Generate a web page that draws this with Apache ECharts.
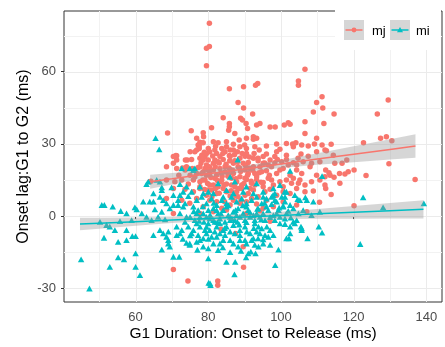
<!DOCTYPE html>
<html>
<head>
<meta charset="utf-8">
<script src="https://cdn.jsdelivr.net/npm/echarts@6/dist/echarts.min.js"></script>
<style>html,body{margin:0;padding:0;background:#fff}#c{width:445px;height:347px}</style>
</head>
<body>
<div id="c"></div>
<script>
// ---- data ----
const seriesNames = ['mj', 'mi'];
const xTicks = [60, 80, 100, 120, 140];
const yTicks = [-30, 0, 30, 60];
const xMinor = [50, 70, 90, 110, 130];
const yMinor = [-15, 15, 45, 75];
const xRange = [40.3, 144.3];
const yRange = [-35.7, 85.2];

const mjPoints = [
[80.3,80.1],[79.5,69.7],[80.3,70.4],[79.5,62.5],[106.6,61.0],[104.8,56.1],[104.8,54.4],[93.6,55.1],[93.0,54.4],[89.7,53.7],[85.8,52.9],[129.5,48.2],[111.3,49.6],[109.8,47.2],[88.2,47.2],[89.7,44.9],[111.5,44.9],[108.9,43.2],[114.6,42.4],[126.5,42.4],[92.2,42.4],[84.1,40.9],[88.9,40.6],[89.4,39.9],[90.4,38.5],[90.8,36.4],[93.3,37.8],[94.2,38.5],[97.0,37.0],[98.4,37.0],[100.9,37.8],[102.0,38.8],[102.5,38.2],[106.6,39.2],[111.8,38.5],[106.6,34.3],[80.9,36.7],[85.8,38.5],[85.8,37.1],[85.6,35.7],[75.3,35.5],[68.8,34.5],[78.7,33.0],[87.3,34.3],[92.4,33.0],[93.3,32.3],[109.8,32.3],[129.0,33.0],[127.4,32.3],[130.5,31.3],[122.7,30.5],[113.8,29.8],[129.7,21.7],[123.4,16.9],[120.1,19.1],[118.5,18.4],[136.9,15.2],[116.1,17.7],[117.6,17.5],[112.3,19.1],[113.2,18.0],[113.8,9.0],[112.3,11.5],[110.6,5.7],[108.9,10.4],[120.1,4.3],[107.1,1.8],[116.2,13.6],[114.6,16.1],[116.8,21.9],[118.1,23.3],
[70.4,-22.2],[74.4,-27.0],[82.6,-27.0],[82.6,-28.7],[89.7,-21.3],[89.6,-12.7],[87.5,-7.2],[83.5,-5.5],[97.0,-2.1],[63.9,14.3],[64.2,14.5],[71.3,25.1],[74.2,23.3],[72.9,20.0],[71.9,17.0],[77.2,29.5],[77.7,30.7],
[77.5,29.1],[78.0,30.5],[78.6,30.5],[81.4,30.9],[82.7,30.5],[85.0,30.9],[86.9,29.8],[88.5,31.6],[90.5,32.3],[92.4,31.9],[92.8,28.8],[96.0,29.1],[98.8,29.9],[101.5,30.2],[103.2,29.9],[104.1,30.5],[105.7,29.5],[107.5,29.1],[109.2,29.9],[111.3,29.5],[112.5,27.1],
[70.4,24.7],[71.1,25.2],[75.0,26.7],[76.8,27.4],[77.5,28.1],[80.0,28.1],[80.4,26.7],[82.3,26.0],[84.6,26.7],[85.8,25.2],[88.0,26.7],[90.1,24.9],[90.5,28.1],[92.6,26.0],[94.0,27.4],[95.1,24.7],[96.0,25.8],[98.8,26.7],[99.7,27.8],[101.5,25.3],[103.4,28.8],[105.5,25.8],[107.5,24.9],[109.8,26.7],[112.1,27.4],[114.4,25.3],
[70.4,21.9],[71.3,23.3],[73.7,23.3],[75.4,23.5],[77.7,24.0],[79.1,24.7],[80.0,23.3],[81.4,21.9],[82.7,22.6],[84.1,23.5],[86.0,24.7],[87.3,23.0],[88.7,24.0],[91.0,22.3],[92.4,24.0],[93.7,23.0],[95.1,21.9],[97.0,23.3],[98.3,22.2],[100.2,22.6],[101.5,23.5],[103.4,22.2],[104.7,24.0],[106.1,22.6],[108.4,21.9],[110.7,22.6],[114.8,21.9],
[68.5,20.5],[71.3,19.8],[73.6,19.1],[75.6,19.8],[77.2,20.2],[78.6,18.4],[80.3,20.5],[81.4,19.1],[83.2,19.8],[84.6,18.4],[86.0,19.4],[86.9,17.7],[88.2,20.5],[90.1,19.1],[91.5,19.8],[92.8,17.7],[94.2,20.5],[96.0,18.8],[97.4,20.5],[98.8,17.7],[100.6,19.8],[102.5,17.0],[104.3,19.1],[105.7,17.7],[108.0,20.5],[109.8,17.0],[112.1,16.3],[113.5,17.0],
[68.5,15.0],[70.8,14.3],[72.7,15.0],[74.5,13.3],[76.3,16.3],[77.7,14.3],[79.1,15.0],[80.4,12.9],[81.8,15.7],[83.2,14.3],[85.0,13.3],[86.4,15.7],[87.8,14.3],[89.2,12.9],[90.5,15.2],[91.9,13.6],[93.3,15.0],[95.1,13.9],[96.5,15.7],[97.9,12.9],[99.7,14.3],[101.5,15.0],[103.4,15.7],[104.8,13.6],[106.6,12.9],[108.4,14.3],[110.7,15.0],[112.1,12.9],
[70.4,11.5],[73.6,11.1],[75.9,10.1],[77.7,11.5],[79.5,8.7],[80.9,10.8],[82.3,9.4],[84.1,11.5],[86.0,8.3],[87.8,10.1],[89.2,11.5],[91.0,9.4],[92.4,10.8],[93.7,8.0],[95.6,10.1],[97.0,11.1],[98.8,8.7],[100.6,10.1],[102.5,9.4],[104.3,11.5],[106.6,10.1],
[68.5,7.3],[72.7,6.6],[74.9,5.3],[76.8,7.3],[78.6,3.9],[80.4,6.6],[82.3,6.0],[83.7,3.2],[86.0,4.6],[86.9,6.6],[88.7,5.3],[90.5,6.0],[91.9,7.3],[93.3,5.0],[95.1,3.2],[96.0,6.6],[97.9,3.9],[100.6,6.0],[104.3,4.6],[70.4,1.1],[77.7,1.1],[81.4,1.8],[85.0,2.5],[90.5,1.1],[94.2,2.2],
[77.7,20.5],[78.2,17.7],[79.1,19.8],[79.5,21.2],[80.4,17.7],[81.8,23.3],[82.3,17.0],[83.2,24.7],[83.7,15.0],[84.6,20.5],[85.5,17.7],[86.9,21.9],[87.3,12.2],[88.7,16.3],[89.6,21.9],[90.1,15.7],[91.0,17.7],[92.4,20.5],[93.3,16.3],[94.7,18.4],[95.1,12.2],[96.5,21.2],[97.4,15.0],[98.3,24.7],[99.7,19.1],[100.6,12.2],[102.0,21.2],[102.9,13.6],[104.3,21.2],[105.2,15.0],[79.5,26.0],[81.8,27.4],[83.7,28.1],[86.9,27.4],[76.3,26.7],[78.2,25.3],[78.6,23.3],[76.8,17.7],[75.0,17.0],[75.9,15.0],[74.0,20.5],[77.7,12.2],[80.0,10.8],[81.4,12.9],[82.7,12.2],[85.0,10.1],[86.4,12.9],[88.2,8.0],[90.1,8.7],[91.5,11.5],[92.8,12.9],[93.7,24.0],[90.5,26.0],[88.7,28.8],[85.0,28.8],[76.8,32.3],[78.6,34.6],
[78.0,22.0],[78.9,26.5],[79.8,13.5],[80.7,16.0],[81.2,25.0],[81.9,20.5],[82.5,14.8],[83.0,22.0],[83.5,18.0],[84.0,26.0],[84.3,13.0],[84.9,21.5],[85.4,16.5],[85.9,23.0],[86.3,10.5],[86.7,19.0],[87.2,25.5],[87.6,15.5],[88.0,22.5],[88.4,11.5],[88.9,18.5],[89.3,26.0],[89.8,13.5],[90.2,21.0],[90.8,17.0],[91.3,24.5],[91.8,14.5],[92.2,19.0],[79.0,11.0],[80.0,19.0],[81.0,8.0],[82.0,29.0],[83.0,9.5],[84.5,6.0],[86.0,27.5],[87.5,8.5],[89.0,6.5],[90.0,29.5],[78.5,15.0],[83.8,16.5],[85.7,20.0],[88.6,20.0],[91.0,20.0],[94.0,18.0],[95.5,22.0],[96.8,17.0],[99.0,23.5],[94.5,14.0],[82.0,11.5],[79.5,17.0]
];

const miPoints = [
[65.5,32.4],[66.5,27.7],[45.0,-18.0],[47.3,-30.1],[52.9,-21.1],[55.2,-17.2],[56.8,-18.0],[60.0,-15.5],[60.0,-21.1],[61.2,-24.5],[55.2,-10.7],[57.5,-10.0],[59.1,-8.3],[60.0,-8.3],[51.3,-9.0],[54.3,-5.8],[57.5,-5.8],[50.7,4.6],[51.4,4.6],[53.7,3.9],[55.9,2.1],[57.5,1.1],[59.8,3.6],[60.3,2.8],[61.7,1.1],[52.0,-3.7],[52.9,-4.4],[50.2,-2.4],[55.7,-2.1],[58.9,-1.7],[63.0,13.3],[63.5,14.3],[65.8,15.0],[64.9,9.4],[67.2,11.9],[69.9,11.9],[62.1,6.0],[63.9,6.0],[64.9,6.0],[66.7,8.0],[67.6,6.6],[68.5,5.3],[70.4,4.6],[65.3,2.8],[67.2,1.8],[69.4,3.2],[63.0,-0.3],[64.4,-1.7],[66.2,-0.3],[68.1,-1.4],[64.9,-7.9],[66.7,-5.8],[67.6,-7.2],[68.5,-8.6],[69.0,-10.0],[67.2,-13.9],[69.4,-12.7],[70.4,-16.9],[72.0,-16.9],[74.0,-11.1],[74.9,-12.0],[72.7,-5.8],[71.3,-4.4],[73.6,-2.4],[74.0,-0.3],[72.2,1.1],[70.4,8.7],[71.7,6.6],[73.6,5.3],[74.5,8.3],[75.4,10.1],[73.1,10.1],[75.9,19.1],[76.3,19.8],[74.9,19.8],[78.6,-12.7],[80.0,-17.6],[80.5,-28.0],[80.1,-27.7],[80.6,-28.7],[85.0,-19.0],[87.2,-24.2],[87.4,-19.0],[90.4,-17.2],[91.0,-15.5],[91.7,-14.8],[93.0,-15.5],[93.8,-12.7],[92.8,-12.0],[95.1,-9.7],[95.6,-7.9],[98.4,-20.4],[99.3,-13.9],[101.5,-9.3],[102.5,-7.2],[105.7,-5.1],[105.7,-5.8],[107.3,-9.3],[110.4,-4.4],[111.3,-6.9],[121.8,-11.6],[122.6,7.8],[128.1,3.6],[139.3,5.3],[111.3,16.6],[102.5,18.8],[101.0,10.1],[101.5,10.1],[103.8,8.7],[105.2,6.6],[107.1,6.6],[108.9,6.0],[101.1,6.0],[98.3,6.6],[97.4,8.0],[101.5,1.1],[102.7,-0.6],[103.4,-2.4],[99.7,-3.0],[101.1,-3.3],[102.5,-4.4],[104.3,-1.7],[103.8,-3.0],[97.0,-5.8],[96.1,-4.4],[94.7,-5.1],[93.8,-4.4],[92.8,-3.0],[91.5,-7.2],[90.6,-6.5],[90.1,-4.4],[88.7,-5.8],[88.0,-2.4],[86.9,-3.7],[86.0,-1.7],[85.0,-4.4],[84.1,-5.8],[83.2,-3.0],[82.3,-4.4],[81.4,-1.7],[80.0,-3.0],[79.1,-5.8],[77.7,-4.4],[76.8,-3.0],[75.9,-5.8],[74.5,-4.4],[79.5,-7.2],[80.9,-8.6],[77.7,-10.0],[76.8,-10.7],[74.9,-11.4],[82.3,-8.6],[84.1,-10.0],[83.2,-11.4],[86.0,-10.0],[86.9,-11.4],[88.2,-12.7],[88.7,-7.9],[90.1,-10.0],[92.4,-9.3],[94.2,-7.2],[93.3,-6.5],[81.4,-11.4],[80.0,-13.4],[82.7,-14.1],
[67.2,10.8],[66.7,14.3],[72.2,8.7],[71.7,4.6],[73.1,3.9],[69.0,-6.5],[71.3,-7.9],[72.2,-7.2],[69.0,-11.4],
[97.8,8.7],[104.6,7.1],[106.7,7.8],[99.5,3.5],[100.6,4.2],[102.2,-9.3],[105.5,-4.4],[97.0,-12.0],
[75.9,3.9],[77.2,2.5],[78.6,1.1],[80.0,2.5],[81.4,3.2],[82.7,1.1],[84.1,2.5],[85.5,0.4],[86.9,1.8],[88.2,3.2],[89.6,1.1],[91.0,2.5],[92.4,0.4],[93.7,3.2],[95.1,1.1],[96.5,2.5],[97.9,0.4],[99.3,2.5],[100.6,3.9],[102.0,2.2],[103.4,3.2],[104.8,1.1],[106.1,2.5],[108.4,0.4],[110.7,1.8],
[76.8,6.6],[78.2,8.0],[79.5,5.3],[80.9,7.3],[82.3,4.6],[83.7,6.6],[85.0,5.3],[86.4,8.0],[87.8,6.0],[89.2,7.3],[90.5,5.3],[91.9,6.6],[93.3,8.0],[94.7,5.3],[96.0,7.3],[97.4,5.0],[98.8,6.0],[100.2,8.0],[102.5,4.6],
[77.7,12.2],[80.0,10.1],[82.7,13.6],[85.0,10.8],[87.3,14.3],[88.1,23.5],[86.0,16.3],[90.5,12.2],[93.3,13.6],[95.1,10.1],[97.9,11.5],[99.7,12.9],[72.7,19.8],[72.2,13.3],[74.0,12.2],
[75.0,-0.3],[76.3,-1.7],[77.7,-0.3],[78.8,-2.4],[80.4,-1.0],[81.8,-2.4],[83.2,-1.0],[84.6,-2.4],[86.0,-0.3],[87.3,-1.7],[88.7,-0.3],[90.1,-1.7],[91.5,-0.3],[92.8,-1.7],[94.2,-0.3],[95.6,-1.7],[97.0,-0.3],[98.3,-1.7],[99.7,-0.3],[101.1,-1.0],
[75.4,-7.2],[77.2,-7.9],[78.6,-9.3],[80.4,-5.8],[81.8,-6.5],[83.2,-7.2],[84.6,-7.9],[86.0,-6.5],[87.3,-7.2],[88.7,-10.0],[90.5,-11.4],[91.9,-10.0],[93.7,-9.3],[95.1,-11.4],[96.5,-8.6],[97.9,-7.9],
[76.8,1.1],[79.5,-0.3],[82.3,2.5],[85.0,3.9],[87.8,0.4],[90.5,3.9],[93.3,1.1],[96.0,3.9],[98.8,1.1],
[78.6,9.4],[81.4,9.4],[84.1,8.0],[86.9,9.4],[89.6,10.1],[92.4,9.4],[95.1,8.0],[98.3,9.4],[101.1,8.0],
[76.0,2.0],[77.5,-2.0],[78.5,4.0],[79.5,-4.5],[80.5,0.5],[81.5,5.5],[82.5,-2.5],[83.5,1.0],[84.5,-5.0],[85.5,4.5],[86.5,-1.0],[87.5,2.5],[88.5,-3.5],[89.5,4.5],[90.5,-2.5],[91.5,1.5],[92.5,-5.0],[93.5,3.0],[94.5,-1.5],[95.5,5.5],[80.0,-9.5],[84.0,-13.0],[86.0,-15.0],[89.0,-14.5],[77.0,-14.0],[75.0,-8.0],[73.0,-9.5]
];

// fitted lines and confidence bands
const mjFitX  = [64, 70, 80, 90, 100, 110, 120, 130, 137];
const mjFit   = [14.3, 15.5, 17.6, 19.6, 21.6, 23.7, 25.7, 27.7, 29.1];
const mjLower = [11.4, 13.1, 16.0, 18.3, 20.0, 21.3, 22.4, 23.5, 24.2];
const mjUpper = [17.2, 17.9, 19.2, 20.9, 23.2, 26.1, 29.0, 31.9, 34.0];

const miFitX  = [44.7, 50, 60, 70, 80, 90, 100, 110, 120, 130, 139.2];
const miFit   = [-3.3, -2.96, -2.31, -1.67, -1.02, -0.37, 0.27, 0.92, 1.56, 2.21, 2.8];
const miLower = [-5.9, -5.25, -4.04, -2.93, -2.03, -1.49, -1.26, -1.14, -1.08, -1.04, -1.01];
const miUpper = [-0.7, -0.67, -0.58, -0.41, -0.01, 0.75, 1.8, 2.98, 4.2, 5.46, 6.61];

// ---- styling ----
const RED = '#F8766D', TEAL = '#00BFC4';
const FONT = "'Liberation Sans', Arial, Helvetica, sans-serif";

function zip(a, b) { return a.map((v, i) => [v, b[i]]); }

function vLines(values, color, width) {
  return {
    type: 'custom', z: 1, silent: true,
    data: values.map(v => [v, 0]),
    renderItem: function (params, api) {
      const cs = params.coordSys;
      const x = Math.round(api.coord([api.value(0), 0])[0]) + 0.5;
      return { type: 'line', shape: { x1: x, y1: cs.y, x2: x, y2: cs.y + cs.height },
               style: { stroke: color, lineWidth: width } };
    }
  };
}
function hLines(values, color, width) {
  return {
    type: 'custom', z: 1, silent: true,
    data: values.map(v => [xTicks[0], v]),
    renderItem: function (params, api) {
      const cs = params.coordSys;
      const y = Math.round(api.coord([api.value(0), api.value(1)])[1]) + 0.5;
      return { type: 'line', shape: { x1: cs.x, y1: y, x2: cs.x + cs.width, y2: y },
               style: { stroke: color, lineWidth: width } };
    }
  };
}
function band(xs, lo, hi) {
  return {
    type: 'custom', z: 3, silent: true,
    data: [[xs[0], lo[0]]],
    renderItem: function (params, api) {
      const pts = [];
      for (let i = 0; i < xs.length; i++) pts.push(api.coord([xs[i], lo[i]]));
      for (let i = xs.length - 1; i >= 0; i--) pts.push(api.coord([xs[i], hi[i]]));
      return { type: 'polygon', shape: { points: pts },
               style: { fill: 'rgba(153,153,153,0.4)' } };
    }
  };
}

const chart = echarts.init(document.getElementById('c'), null, { renderer: 'canvas' });
chart.setOption({
  animation: false,
  backgroundColor: '#ffffff',
  grid: { left: 64, top: 11, right: 3, bottom: 45, show: true,
          borderColor: '#333333', borderWidth: 1, backgroundColor: 'transparent' },
  xAxis: {
    type: 'value', min: xRange[0], max: xRange[1],
    axisLine: { show: false },
    axisTick: { show: true, length: 3, customValues: xTicks, lineStyle: { color: '#333333' } },
    axisLabel: { customValues: xTicks, color: '#4D4D4D', fontSize: 13, margin: 9, fontFamily: FONT },
    splitLine: { show: false },
    name: 'G1 Duration: Onset to Release (ms)', nameLocation: 'middle', nameGap: 24,
    nameMoveOverlap: false,
    nameTextStyle: { color: '#000000', fontSize: 15.5, fontFamily: FONT }
  },
  yAxis: {
    type: 'value', min: yRange[0], max: yRange[1],
    axisLine: { show: false },
    axisTick: { show: true, length: 3, customValues: yTicks, lineStyle: { color: '#333333' } },
    axisLabel: { customValues: yTicks, color: '#4D4D4D', fontSize: 13, margin: 8, fontFamily: FONT },
    splitLine: { show: false },
    name: 'Onset lag:G1 to G2 (ms)', nameLocation: 'middle', nameGap: 32,
    nameMoveOverlap: false,
    nameTextStyle: { color: '#000000', fontSize: 16, fontFamily: FONT }
  },
  series: [
    vLines(xMinor, '#F2F2F2', 1),
    hLines(yMinor, '#F2F2F2', 1),
    vLines(xTicks, '#EBEBEB', 1),
    hLines(yTicks, '#EBEBEB', 1),
    { name: seriesNames[0], type: 'scatter', z: 2, data: mjPoints, symbol: 'circle', symbolSize: 5.5,
      itemStyle: { color: RED, opacity: 1 } },
    { name: seriesNames[1], type: 'scatter', z: 2, data: miPoints, symbol: 'triangle', symbolSize: [6.5, 5.8],
      itemStyle: { color: TEAL, opacity: 1 } },
    band(mjFitX, mjLower, mjUpper),
    { type: 'line', z: 4, data: zip(mjFitX, mjFit), showSymbol: false, silent: true,
      lineStyle: { color: RED, width: 1.5 } },
    band(miFitX, miLower, miUpper),
    { type: 'line', z: 4, data: zip(miFitX, miFit), showSymbol: false, silent: true,
      lineStyle: { color: TEAL, width: 1.5 } }
  ],
  graphic: [
    { type: 'rect', z: 100, shape: { x: 335, y: 10, width: 106, height: 40 }, style: { fill: '#ffffff' } },
    { type: 'rect', z: 101, shape: { x: 344, y: 20, width: 20, height: 20 }, style: { fill: '#D6D6D6' } },
    { type: 'line', z: 102, shape: { x1: 345.5, y1: 30, x2: 362.5, y2: 30 }, style: { stroke: RED, lineWidth: 1.5 } },
    { type: 'circle', z: 103, shape: { cx: 354, cy: 30, r: 2.4 }, style: { fill: RED } },
    { type: 'text', z: 103, x: 372, y: 31, style: { text: seriesNames[0], fill: '#000', font: '13px ' + FONT, verticalAlign: 'middle' } },
    { type: 'rect', z: 101, shape: { x: 390, y: 20, width: 20, height: 20 }, style: { fill: '#D6D6D6' } },
    { type: 'line', z: 102, shape: { x1: 391.5, y1: 30, x2: 408.5, y2: 30 }, style: { stroke: TEAL, lineWidth: 1.5 } },
    { type: 'polygon', z: 103, shape: { points: [[400, 27], [403, 32.3], [397, 32.3]] }, style: { fill: TEAL } },
    { type: 'text', z: 103, x: 416, y: 31, style: { text: seriesNames[1], fill: '#000', font: '13px ' + FONT, verticalAlign: 'middle' } }
  ]
});
</script>
</body>
</html>
